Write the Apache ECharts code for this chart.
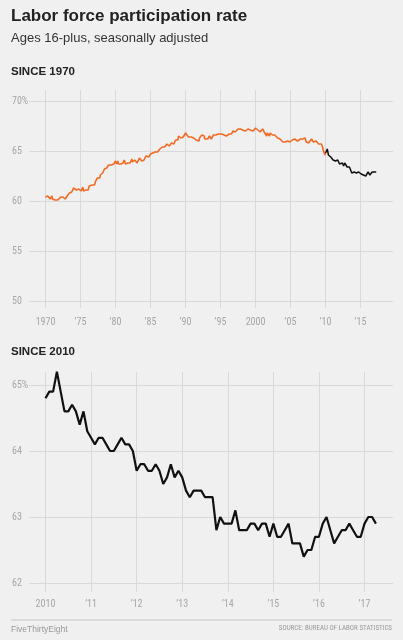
<!DOCTYPE html>
<html>
<head>
<meta charset="utf-8">
<script src="https://cdn.jsdelivr.net/npm/echarts@6/dist/echarts.min.js"></script>
<style>
html,body{margin:0;padding:0;background:#f0f0f0;}
#chart{width:403px;height:640px;}
</style>
</head>
<body>
<div id="chart"></div>
<script>
// Monthly labor force participation rate (%)
const lfpr1970s = [
60.4,60.6,60.5,60.6,60.5,60.3,60.4,60.4,60.2,60.4,60.4,60.5,
60.2,60.1,60.0,60.2,60.1,59.9,60.1,60.2,60.2,60.1,60.3,60.3,
60.2,60.2,60.4,60.4,60.4,60.4,60.4,60.3,60.3,60.3,60.2,60.4,
60.0,60.5,60.5,60.6,60.4,60.8,60.7,60.6,60.7,60.9,61.0,61.0,
61.3,61.2,61.2,61.1,61.1,61.1,61.2,61.0,61.1,61.2,61.1,61.1,
61.1,61.0,61.1,61.2,61.4,61.0,61.1,61.1,61.0,61.1,61.1,61.2,
61.3,61.1,61.2,61.5,61.4,61.4,61.7,61.7,61.6,61.6,61.8,61.8,
61.6,61.8,62.0,62.1,62.2,62.3,62.1,62.3,62.2,62.3,62.6,62.6,
62.8,62.7,62.8,62.9,62.9,63.2,63.1,63.1,63.2,63.3,63.4,63.5,
63.6,63.8,63.8,63.5,63.5,63.6,63.8,63.7,63.7,63.7,63.8,63.9];
const lfpr1980s = [
64.0,64.0,63.7,63.8,64.0,63.7,63.8,63.7,63.6,63.7,63.8,63.6,
63.7,63.8,64.0,64.1,64.2,63.7,63.8,63.8,63.5,63.8,63.9,63.6,
63.7,63.8,63.8,63.9,64.2,63.9,64.0,64.1,64.1,64.1,64.1,64.1,
63.9,63.8,63.7,63.8,63.7,64.3,64.1,64.3,64.3,64.0,64.1,64.1,
63.9,64.1,64.1,64.3,64.5,64.6,64.6,64.4,64.4,64.4,64.5,64.6,
64.7,64.7,64.9,64.9,64.8,64.6,64.7,64.6,64.9,65.0,64.9,65.0,
64.9,65.0,65.1,65.1,65.2,65.4,65.4,65.3,65.4,65.4,65.4,65.3,
65.4,65.5,65.5,65.4,65.7,65.5,65.6,65.7,65.5,65.7,65.7,65.7,
65.8,65.9,65.7,65.8,65.7,65.8,65.9,66.1,65.9,66.0,66.2,66.1,
66.5,66.3,66.3,66.4,66.3,66.5,66.5,66.5,66.4,66.5,66.6,66.5];
const lfpr1990s = [
66.8,66.7,66.7,66.6,66.6,66.4,66.5,66.5,66.4,66.4,66.4,66.4,
66.2,66.2,66.3,66.4,66.2,66.2,66.1,66.0,66.2,66.1,66.1,66.0,
66.3,66.2,66.4,66.5,66.6,66.7,66.7,66.6,66.5,66.2,66.3,66.4,
66.2,66.2,66.2,66.1,66.4,66.5,66.4,66.4,66.2,66.3,66.3,66.4,
66.6,66.6,66.5,66.5,66.6,66.4,66.4,66.6,66.6,66.7,66.7,66.7,
66.8,66.8,66.7,66.9,66.5,66.5,66.6,66.6,66.6,66.6,66.5,66.4,
66.4,66.6,66.6,66.7,66.7,66.7,66.9,66.7,66.9,67.0,66.9,67.0,
67.0,66.9,67.1,67.1,67.1,67.1,67.2,67.1,67.1,67.1,67.2,67.2,
67.1,67.1,67.1,66.9,66.9,67.0,67.0,67.0,67.2,67.2,67.1,67.2,
67.2,67.2,67.0,67.1,67.1,67.1,67.0,67.0,67.0,67.0,67.1,67.1];
const lfpr2000s = [
67.3,67.3,67.3,67.3,67.1,67.1,66.9,66.9,66.9,66.8,66.9,67.0,
67.2,67.1,67.2,66.9,66.7,66.7,66.8,66.5,66.8,66.7,66.7,66.7,
66.5,66.8,66.6,66.7,66.7,66.6,66.5,66.6,66.7,66.6,66.4,66.4,
66.4,66.4,66.3,66.4,66.4,66.5,66.2,66.1,66.1,66.1,66.1,65.9,
66.1,66.0,66.0,65.9,66.0,66.1,66.1,66.0,65.8,65.9,66.0,65.9,
65.8,65.9,65.9,66.1,66.1,66.1,66.1,66.2,66.1,66.1,66.0,66.0,
66.0,66.1,66.2,66.1,66.1,66.2,66.1,66.2,66.1,66.2,66.3,66.4,
66.4,66.3,66.2,65.9,66.0,66.0,66.0,65.8,66.0,65.8,66.0,66.0,
66.2,66.0,66.1,65.9,66.1,66.1,66.1,66.1,66.0,66.0,65.9,65.8,
65.7,65.8,65.6,65.7,65.7,65.7,65.5,65.4,65.1,65.0,65.0,64.6];
const lfpr2010s = [
64.8,64.9,64.9,65.2,64.9,64.6,64.6,64.7,64.6,64.4,64.6,64.3,
64.2,64.1,64.2,64.2,64.1,64.0,64.0,64.1,64.2,64.1,64.1,64.0,
63.7,63.8,63.8,63.7,63.7,63.8,63.7,63.5,63.6,63.8,63.6,63.7,
63.6,63.4,63.3,63.4,63.4,63.4,63.3,63.3,63.3,62.8,63.0,62.9,
62.9,62.9,63.1,62.8,62.8,62.8,62.9,62.9,62.8,62.9,62.9,62.7,
62.9,62.7,62.7,62.8,62.9,62.6,62.6,62.6,62.4,62.5,62.5,62.7,
62.7,62.9,63.0,62.8,62.6,62.7,62.8,62.8,62.9,62.8,62.7,62.7,
62.9,63.0,63.0,62.9];

const topYTicks = [50,55,60,65,70];
const topYLabels = ['50','55','60','65','70%'];
const topXTicks = [1970,1975,1980,1985,1990,1995,2000,2005,2010,2015];
const topXLabels = ['1970','\u201975','\u201980','\u201985','\u201990','\u201995','2000','\u201905','\u201910','\u201915'];
const botYTicks = [62,63,64,65];
const botYLabels = ['62','63','64','65%'];
const botXTicks = [2010,2011,2012,2013,2014,2015,2016,2017];
const botXLabels = ['2010','\u201911','\u201912','\u201913','\u201914','\u201915','\u201916','\u201917'];

function toPoints(startYear, values){ return values.map((v,i)=>[startYear + i/12, v]); }
const orangeVals = lfpr1970s.concat(lfpr1980s, lfpr1990s, lfpr2000s, [lfpr2010s[0]]);
const orangePts = toPoints(1970, orangeVals);
const blackPts = toPoints(2010, lfpr2010s);

const GRID = '#d9d9d9';
const LBL = '#a6a6a6';
const NARROW = "'Roboto Condensed','DejaVu Sans Condensed',sans-serif";
function lab(ticks, labels){ return v => { const i = ticks.indexOf(Math.round(v)); return i>=0 ? labels[i] : ''; }; }

function xAxis(gi, min, max, ticks, labels, margin){
  return {type:'value', gridIndex:gi, min:min, max:max,
    axisLine:{show:false},
    axisTick:{show:false, customValues:ticks},
    splitLine:{show:true, lineStyle:{color:GRID, width:1}},
    axisLabel:{customValues:ticks, formatter:lab(ticks,labels), color:LBL, fontSize:10, fontFamily:NARROW, margin:margin}};
}
function yAxis(gi, min, max, ticks, labels){
  return {type:'value', gridIndex:gi, min:min, max:max,
    axisLine:{show:false},
    axisTick:{show:false, customValues:ticks},
    splitLine:{show:true, lineStyle:{color:GRID, width:1}},
    axisLabel:{customValues:ticks, formatter:lab(ticks,labels), color:LBL, fontSize:10, fontFamily:NARROW, align:'left', margin:17}};
}

const chart = echarts.init(document.getElementById('chart'), null, {renderer:'canvas'});
chart.setOption({
  backgroundColor:'#f0f0f0',
  animation:false,
  grid:[
    {left:29, right:10, top:90, height:218},
    {left:29, right:10, top:372, height:220}
  ],
  xAxis:[
    xAxis(0, 1967.64, 2019.64, topXTicks, topXLabels, 9),
    xAxis(1, 2009.638, 2017.625, botXTicks, botXLabels, 7)
  ],
  yAxis:[
    yAxis(0, 49.3, 71.1, topYTicks, topYLabels),
    yAxis(1, 61.864, 65.197, botYTicks, botYLabels)
  ],
  series:[
    {type:'line', xAxisIndex:0, yAxisIndex:0, data:orangePts, showSymbol:false, lineStyle:{color:'#f26b24', width:1.6}, z:3},
    {type:'line', xAxisIndex:0, yAxisIndex:0, data:blackPts, showSymbol:false, lineStyle:{color:'#111', width:1.5}, z:4},
    {type:'line', xAxisIndex:1, yAxisIndex:1, data:blackPts, showSymbol:false, lineStyle:{color:'#111', width:2.2}, z:4}
  ],
  graphic:[
    {type:'text', left:11, top:8, style:{text:'Labor force participation rate', font:"bold 17px 'Liberation Sans', Arial, sans-serif", fill:'#222'}},
    {type:'text', left:11, top:32, style:{text:'Ages 16-plus, seasonally adjusted', font:"13px 'Liberation Sans', Arial, sans-serif", fill:'#333'}},
    {type:'text', left:11, top:66, style:{text:'SINCE 1970', font:"bold 11.5px 'Liberation Sans', Arial, sans-serif", fill:'#222'}},
    {type:'text', left:11, top:346, style:{text:'SINCE 2010', font:"bold 11.5px 'Liberation Sans', Arial, sans-serif", fill:'#222'}},
    {type:'line', shape:{x1:11, y1:620, x2:392, y2:620}, style:{stroke:'#c4c4c4', lineWidth:1}},
    {type:'text', left:11, top:625, style:{text:'FiveThirtyEight', font:"8.5px 'Liberation Sans', Arial, sans-serif", fill:'#999'}},
    {type:'text', right:11, top:625, style:{text:'SOURCE: BUREAU OF LABOR STATISTICS', font:"7px "+NARROW, fill:'#999'}}
  ]
});
</script>
</body>
</html>
